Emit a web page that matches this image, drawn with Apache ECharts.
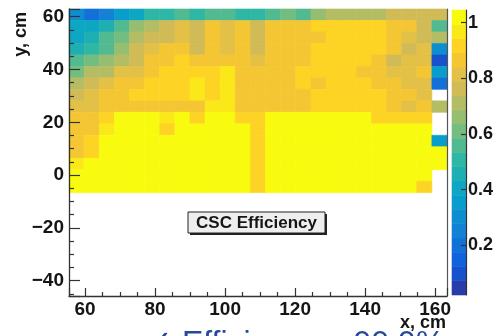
<!DOCTYPE html>
<html>
<head>
<meta charset="utf-8">
<script src="https://cdn.jsdelivr.net/npm/echarts@6/dist/echarts.min.js"></script>
<style>
  html, body { margin: 0; padding: 0; background: #ffffff; }
  #chart { width: 496px; height: 336px; }
</style>
</head>
<body>
<div id="chart"></div>
<script>
// ---- binning of the CSC efficiency map (cm) ----
const xCenters = [57.56, 61.88, 66.20, 70.52, 74.84, 79.16, 83.48, 87.80, 92.12, 96.44,
                  100.76, 105.08, 109.40, 113.72, 118.04, 122.36, 126.68, 131.00, 135.32,
                  139.64, 143.96, 148.28, 152.60, 156.92, 161.24];
// y bin centres, top row first
const yCenters = [60.73, 56.38, 52.03, 47.68, 43.34, 38.99, 34.64, 30.29,
                  25.94, 21.60, 17.25, 12.90, 8.55, 4.20, -0.14, -4.49];
const binWidthX = 4.32;
const binWidthY = 4.348;

// ---- efficiency per cell, one array per y row (null = no entries) ----
const effY61 = [0.30,0.22,0.23,0.35,0.43,0.52,0.53,0.54,0.52,0.56,0.56,0.52,0.52,0.55,0.60,0.57,0.67,0.70,0.70,0.72,0.72,0.74,0.75,0.74,0.77];
const effY56 = [0.40,0.42,0.48,0.58,0.67,0.72,0.74,0.79,0.76,0.86,0.80,0.87,0.77,0.87,0.87,0.87,0.90,0.92,0.92,0.92,0.91,0.88,0.87,0.77,0.57];
const effY52 = [0.43,0.47,0.55,0.62,0.72,0.77,0.76,0.84,0.76,0.86,0.80,0.87,0.77,0.87,0.88,0.88,0.88,0.92,0.93,0.93,0.92,0.87,0.80,0.77,0.72];
const effY48 = [0.47,0.53,0.58,0.68,0.75,0.80,0.86,0.87,0.78,0.87,0.82,0.88,0.77,0.88,0.88,0.89,0.92,0.93,0.93,0.93,0.92,0.88,0.77,0.81,0.30];
const effY43 = [0.54,0.60,0.66,0.72,0.78,0.86,0.87,0.91,0.86,0.88,0.88,0.88,0.80,0.88,0.88,0.89,0.92,0.93,0.93,0.92,0.88,0.78,0.80,0.81,0.10];
const effY39 = [0.62,0.71,0.73,0.79,0.81,0.87,0.91,0.92,0.93,0.92,0.95,0.88,0.87,0.88,0.89,0.90,0.92,0.93,0.93,0.88,0.88,0.82,0.80,0.86,0.36];
const effY35 = [0.72,0.78,0.79,0.85,0.87,0.90,0.92,0.92,0.95,0.92,0.96,0.88,0.87,0.88,0.89,0.90,0.87,0.93,0.93,0.92,0.88,0.86,0.81,0.80,0.21];
const effY30 = [0.77,0.81,0.85,0.87,0.90,0.91,0.90,0.91,0.95,0.93,0.96,0.88,0.87,0.88,0.88,0.89,0.92,0.93,0.93,0.92,0.90,0.87,0.87,0.81,null];
const effY26 = [0.81,0.83,0.87,0.88,0.88,0.89,0.88,0.88,0.88,0.96,0.97,0.88,0.87,0.88,0.88,0.88,0.93,0.94,0.94,0.93,0.90,0.89,0.80,0.88,0.72];
const effY22 = [0.86,0.87,0.92,1.00,1.00,1.00,0.95,1.00,0.91,1.00,1.00,0.91,0.92,1.00,1.00,1.00,1.00,1.00,1.00,1.00,0.90,0.90,0.90,0.90,null];
const effY17 = [0.87,0.87,0.95,1.00,1.00,1.00,0.90,1.00,1.00,1.00,1.00,1.00,0.92,1.00,1.00,1.00,1.00,1.00,1.00,1.00,1.00,1.00,1.00,1.00,null];
const effY13 = [0.87,0.90,1.00,1.00,1.00,1.00,1.00,1.00,1.00,1.00,1.00,1.00,0.93,1.00,1.00,1.00,1.00,1.00,1.00,1.00,1.00,1.00,1.00,1.00,0.36];
const effY9  = [0.87,0.93,1.00,1.00,1.00,1.00,1.00,1.00,1.00,1.00,1.00,1.00,0.93,1.00,1.00,1.00,1.00,1.00,1.00,1.00,1.00,1.00,1.00,1.00,1.00];
const effY4  = [0.95,1.00,1.00,1.00,1.00,1.00,1.00,1.00,1.00,1.00,1.00,1.00,0.93,1.00,1.00,1.00,1.00,1.00,1.00,1.00,1.00,1.00,1.00,1.00,1.00];
const effY0  = [1.00,1.00,1.00,1.00,1.00,1.00,1.00,1.00,1.00,1.00,1.00,1.00,0.93,1.00,1.00,1.00,1.00,1.00,1.00,1.00,1.00,1.00,1.00,1.00,null];
const effYm4 = [1.00,1.00,1.00,1.00,1.00,1.00,1.00,1.00,1.00,1.00,1.00,1.00,0.93,1.00,1.00,1.00,1.00,1.00,1.00,1.00,1.00,1.00,1.00,0.90,null];
const effRows = [effY61, effY56, effY52, effY48, effY43, effY39, effY35, effY30,
                 effY26, effY22, effY17, effY13, effY9, effY4, effY0, effYm4];

// ---- axis ranges ----
const xRange = [55.4, 163.4];
const yRange = [-45.8, 62.9];
const zRange = [0.022, 1.045];
const nContours = 20;

// ---- "bird" colour palette ----
const birdStops = [0.0, 0.125, 0.25, 0.375, 0.5, 0.625, 0.75, 0.875, 1.0];
const birdRed   = [0.2082, 0.0592, 0.0780, 0.0232, 0.1802, 0.5301, 0.8186, 0.9956, 0.9764];
const birdGreen = [0.1664, 0.3599, 0.5041, 0.6419, 0.7178, 0.7492, 0.7328, 0.7862, 0.9832];
const birdBlue  = [0.5293, 0.8684, 0.8385, 0.7914, 0.6425, 0.4662, 0.3444, 0.1654, 0.0539];

function birdColor(t) {
  let k = 0;
  while (k < birdStops.length - 2 && t > birdStops[k + 1]) k++;
  const f = (t - birdStops[k]) / (birdStops[k + 1] - birdStops[k]);
  const mix = arr => Math.round(255 * (arr[k] + f * (arr[k + 1] - arr[k])));
  return 'rgb(' + mix(birdRed) + ',' + mix(birdGreen) + ',' + mix(birdBlue) + ')';
}

// contour levels and their colours
const zStep = (zRange[1] - zRange[0]) / nContours;
const pieces = [];
const levelData = [];
for (let L = 0; L < nContours; L++) {
  const lo = zRange[0] + L * zStep;
  const hi = lo + zStep;
  const idx = Math.floor((L + 0.99) * 255 / nContours);
  pieces.push({ gte: lo, lt: L === nContours - 1 ? zRange[1] + 1 : hi, color: birdColor(idx / 254) });
  levelData.push([0.5, lo + zStep / 2, lo + zStep / 2]);
}

// cells as [x, y, efficiency]
const cells = [];
effRows.forEach((row, r) => {
  row.forEach((v, c) => {
    if (v !== null) cells.push([xCenters[c], yCenters[r], v]);
  });
});

const FONT = '"Liberation Sans", Arial, Helvetica, sans-serif';
const INK = '#151515';
const AXIS_LINE = { show: true, onZero: false, lineStyle: { color: '#333', width: 1.3 } };

const chart = echarts.init(document.getElementById('chart'), null, { renderer: 'canvas' });

chart.setOption({
  animation: false,
  backgroundColor: '#ffffff',
  grid: [
    { left: 69, top: 9, width: 378, height: 287 },
    { left: 452, top: 10, width: 16, height: 285 }
  ],
  xAxis: [
    {
      gridIndex: 0, type: 'value', position: 'bottom', min: xRange[0], max: xRange[1], splitNumber: 5, z: 10,
      axisLine: AXIS_LINE,
      axisTick: { show: true, inside: true, length: 8, lineStyle: { color: '#333', width: 1.2 } },
      minorTick: { show: true, splitNumber: 4, length: 4, lineStyle: { color: '#333', width: 1.2 } },
      splitLine: { show: false },
      axisLabel: {
        margin: 4, fontSize: 19, fontWeight: 'bold', color: INK, fontFamily: FONT,
        showMinLabel: false, showMaxLabel: false,
        formatter: v => (Math.abs(v % 20) < 1e-6 ? String(v) : '')
      }
    },
    { gridIndex: 1, type: 'value', min: 0, max: 1, show: false }
  ],
  yAxis: [
    {
      gridIndex: 0, type: 'value', position: 'left', min: yRange[0], max: yRange[1], splitNumber: 5, z: 10,
      axisLine: AXIS_LINE,
      axisTick: { show: true, inside: true, length: 11, lineStyle: { color: '#333', width: 1.2 } },
      minorTick: { show: true, splitNumber: 4, length: 5, lineStyle: { color: '#333', width: 1.2 } },
      splitLine: { show: false },
      axisLabel: {
        margin: 5, fontSize: 19, fontWeight: 'bold', color: INK, fontFamily: FONT,
        showMinLabel: false, showMaxLabel: false,
        formatter: v => (Math.abs(v % 20) < 1e-6 ? String(v).replace('-', '\u2212') : '')
      }
    },
    {
      // right edge of the frame
      gridIndex: 0, type: 'value', position: 'right', min: yRange[0], max: yRange[1], z: 10,
      axisLine: { show: true, onZero: false, lineStyle: { color: '#555', width: 1.2 } },
      axisTick: { show: false }, axisLabel: { show: false }, splitLine: { show: false }
    },
    {
      // palette axis
      gridIndex: 1, type: 'value', position: 'right', min: zRange[0], max: zRange[1], splitNumber: 5, z: 10,
      axisLine: { show: true, onZero: false, lineStyle: { color: '#333', width: 1.2 } },
      axisTick: { show: true, inside: true, length: 5, lineStyle: { color: '#333', width: 1.2 } },
      splitLine: { show: false },
      axisLabel: {
        margin: 2, fontSize: 18, fontWeight: 'bold', color: INK, fontFamily: FONT,
        showMinLabel: false, showMaxLabel: false,
        formatter: v => (Math.abs(v * 5 - Math.round(v * 5)) < 1e-6 ? String(Math.round(v * 10) / 10) : '')
      }
    }
  ],
  visualMap: {
    type: 'piecewise', show: false, dimension: 2, seriesIndex: [0, 1], pieces: pieces
  },
  series: [
    {
      name: 'CSC Efficiency',
      type: 'custom', xAxisIndex: 0, yAxisIndex: 0,
      encode: { x: 0, y: 1 },
      data: cells,
      renderItem: function (params, api) {
        const x = api.value(0), y = api.value(1);
        const p0 = api.coord([x - binWidthX / 2, y + binWidthY / 2]);
        const p1 = api.coord([x + binWidthX / 2, y - binWidthY / 2]);
        const fill = api.visual('color');
        return {
          type: 'rect',
          shape: { x: p0[0], y: p0[1], width: p1[0] - p0[0], height: p1[1] - p0[1] },
          style: { fill: fill, stroke: fill, lineWidth: 0.6 }
        };
      }
    },
    {
      name: 'palette',
      type: 'custom', xAxisIndex: 1, yAxisIndex: 2,
      encode: { x: 0, y: 1 },
      data: levelData,
      renderItem: function (params, api) {
        const z = api.value(1);
        const p0 = api.coord([0, z + zStep / 2]);
        const p1 = api.coord([1, z - zStep / 2]);
        const fill = api.visual('color');
        return {
          type: 'rect',
          shape: { x: p0[0], y: p0[1], width: p1[0] - p0[0], height: p1[1] - p0[1] },
          style: { fill: fill, stroke: fill, lineWidth: 0.6 }
        };
      }
    }
  ],
  graphic: [
    {
      type: 'text', x: 21, y: 12, rotation: Math.PI / 2, z: 20,
      style: { text: 'y, cm', align: 'right', verticalAlign: 'middle',
               font: 'bold 18px ' + FONT, fill: INK }
    },
    {
      type: 'text', x: 446, y: 323, z: 20,
      style: { text: 'x, cm', align: 'right', verticalAlign: 'middle',
               font: 'bold 18px ' + FONT, fill: INK }
    },
    {
      type: 'group', x: 188, y: 212, z: 20,
      children: [
        { type: 'rect', shape: { x: 2, y: 2, width: 137, height: 21 }, style: { fill: '#222' } },
        { type: 'rect', shape: { x: 0, y: 0, width: 137, height: 21 }, style: { fill: '#eeeeee', stroke: '#222', lineWidth: 1 } },
        { type: 'text', x: 68.5, y: 11,
          style: { text: 'CSC Efficiency', align: 'center', verticalAlign: 'middle',
                   font: 'bold 17px ' + FONT, fill: INK } }
      ]
    },
    {
      type: 'text', x: 146, y: 328, z: 20,
      style: { text: '\u2713 Efficiency \u2248 99.9%', align: 'left', verticalAlign: 'top',
               font: '32px ' + FONT, fill: '#24489c' }
    }
  ]
});
</script>
</body>
</html>
